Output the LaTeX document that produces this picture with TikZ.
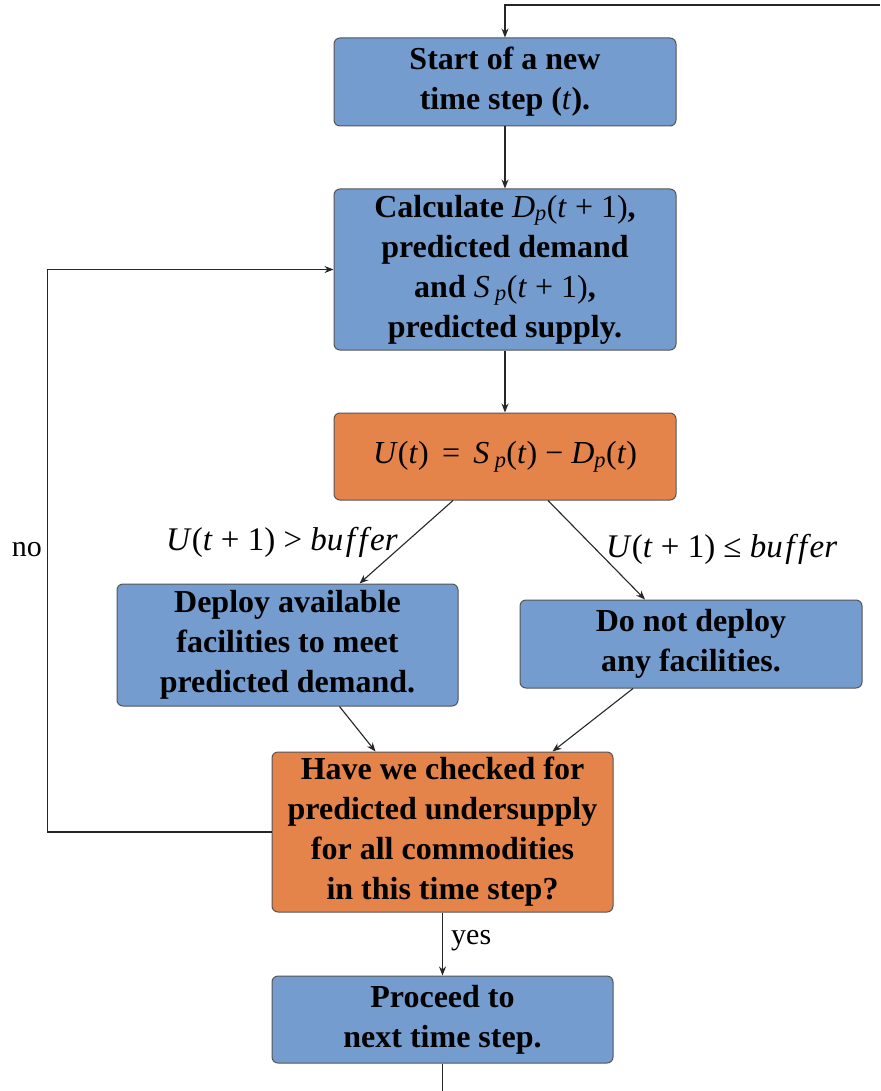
\documentclass[tikz,border=0pt]{standalone}
\usepackage{fontspec}
\setmainfont{Liberation Serif}
\usetikzlibrary{arrows.meta,calc}
\definecolor{boxblue}{RGB}{117,156,207}
\definecolor{boxorange}{RGB}{228,131,74}
\definecolor{edgegray}{RGB}{85,85,85}
\newcommand{\mth}[1]{{\mdseries #1}}
\newcommand{\vi}[1]{\textit{#1}}
\newcommand{\sub}[1]{\textsubscript{\textit{#1}}}
\tikzset{
  box/.style={draw=edgegray, line width=1pt, rounded corners=6pt, minimum width=342pt,
    align=center, font=\fontsize{32}{40}\selectfont\bfseries, inner sep=0pt},
  bluebox/.style={box, fill=boxblue},
  orangebox/.style={box, fill=boxorange},
  conn/.style={draw=black!85, line width=1.1pt, -{Stealth[length=9pt,width=7pt]}},
  plainline/.style={draw=black!85, line width=1.1pt},
  lbl/.style={font=\fontsize{33}{36}\selectfont, inner sep=0pt},
  wordlbl/.style={font=\fontsize{30}{34}\selectfont, inner sep=0pt}
}
\begin{document}
\begin{tikzpicture}[x=1pt,y=-1pt]
\useasboundingbox (0,0) rectangle (880,1091);
\fill[white] (0,0) rectangle (880,1091);

\node[bluebox, minimum height=88pt] (start) at (505,82)
  {Start of a new\\time step (\mth{\vi{t}}).};
\node[bluebox, minimum height=161pt] (calc) at (505,269.5)
  {Calculate \mth{\vi{D}\sub{p}(\vi{t} + 1)},\\predicted demand\\and \mth{\vi{S}\,\sub{p}(\vi{t} + 1)},\\predicted supply.};
\node[orangebox, minimum height=87pt, font=\fontsize{32}{40}\selectfont] (u) at (505,456.5)
  {\vi{U}(\vi{t}) \,=\, \vi{S}\,\sub{p}(\vi{t}) − \vi{D}\sub{p}(\vi{t})};
\node[bluebox, minimum width=341pt, minimum height=122pt] (deploy) at (287.5,645)
  {Deploy available\\facilities to meet\\predicted demand.};
\node[bluebox, minimum height=88pt] (donot) at (691,644)
  {Do not deploy\\any facilities.};
\node[orangebox, minimum width=341pt, minimum height=160pt] (have) at (442.5,832)
  {Have we checked for\\predicted undersupply\\for all commodities\\in this time step?};
\node[bluebox, minimum width=341pt, minimum height=87pt] (proceed) at (442.5,1019.5)
  {Proceed to\\next time step.};

\coordinate (topright) at (880,5);
\coordinate (bottomend) at (442.5,1091);

\draw[conn] (topright) -| (start.north);
\draw[conn] (start.south) -- (calc.north);
\draw[conn] (calc.south) -- (u.north);
\draw[conn] ([xshift=-52pt]u.south) -- ([xshift=72pt]deploy.north);
\draw[conn] ([xshift=43pt]u.south) -- ([xshift=-46pt]donot.north);
\draw[conn] ([xshift=52pt]deploy.south) -- ([xshift=-67pt]have.north);
\draw[conn] ([xshift=-58pt]donot.south) -- ([xshift=110pt]have.north);
\draw[conn] (have.west) -- ++(-224pt,0) |- (calc.west);
\draw[conn] (have.south) -- (proceed.north);
\draw[plainline] (proceed.south) -- (bottomend);

\node[lbl, anchor=east] (lblgt) at (398,542)
  {\vi{U}(\vi{t} + 1) > \vi{bu\kern2.5pt f\kern3.5pt f\kern2.5pt er}};
\node[lbl, anchor=west] (lblle) at (606,549)
  {\vi{U}(\vi{t} + 1) ≤ \vi{bu\kern2.5pt f\kern3.5pt f\kern2.5pt er}};
\node[wordlbl] (lblno) at (27,550) {no};
\node[wordlbl, anchor=west] (lblyes) at (451,941) {yes};
\end{tikzpicture}
\end{document}
